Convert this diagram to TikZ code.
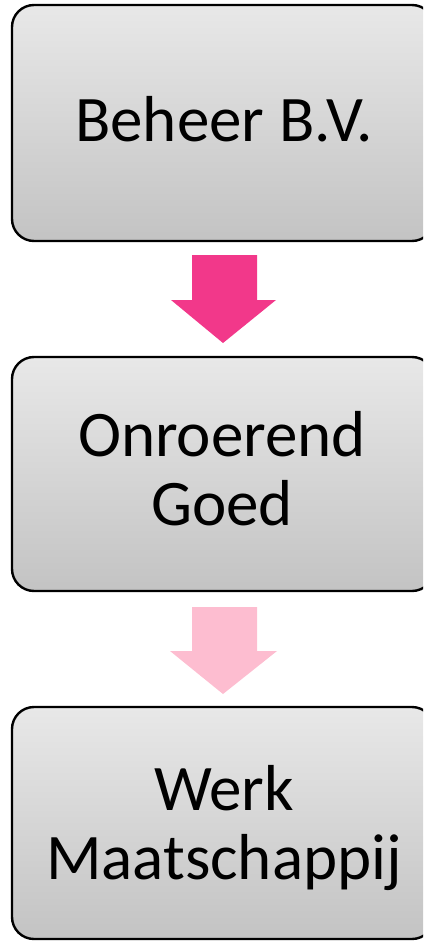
\documentclass[tikz,border=0pt]{standalone}
\usepackage{fontspec}
\setmainfont{Carlito}
\definecolor{boxtop}{HTML}{E8E8E8}
\definecolor{boxbot}{HTML}{C3C3C3}
\definecolor{pinkdark}{HTML}{F2388A}
\definecolor{pinklight}{HTML}{FDBDD0}
\tikzset{
  box/.style={draw=black, line width=2.4pt, rounded corners=22pt,
    top color=boxtop, bottom color=boxbot},
  boxtext/.style={font=\fontsize{65}{65}\selectfont, inner sep=0pt, anchor=base}
}
\begin{document}
\begin{tikzpicture}[x=1pt,y=-1pt]
\useasboundingbox (0,0) rectangle (423,941);
\clip (0,0) rectangle (423,941);
% boxes
\draw[box] (12,5) rectangle (434,241);
\node[boxtext] (b1) at (224,142) {Beheer B.V.};
\draw[box] (12,357) rectangle (434,591);
\node[boxtext] (b2a) at (222,456) {Onroerend};
\node[boxtext] (b2b) at (222,525) {Goed};
\draw[box] (12,707) rectangle (434,939);
\node[boxtext] (b3a) at (224,810) {Werk};
\node[boxtext] (b3b) at (224,879) {Maatschappij};
% arrows
\fill[pinkdark] (192,255) -- (257,255) -- (257,300) -- (276,300) -- (223,343) -- (171,300) -- (192,300) -- cycle;
\fill[pinklight] (192,607) -- (257,607) -- (257,651) -- (277,651) -- (223,694) -- (170,651) -- (192,651) -- cycle;
\end{tikzpicture}
\end{document}
